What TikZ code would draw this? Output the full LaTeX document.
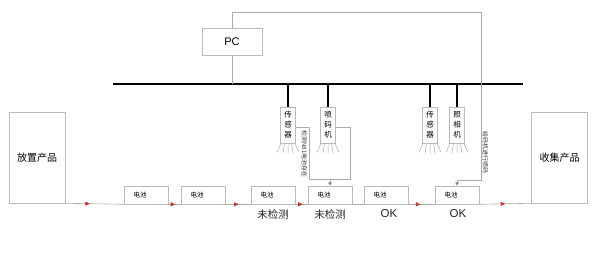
\documentclass[tikz,border=0pt]{standalone}
\usepackage{fontspec}
\setmainfont{Liberation Sans}
\newfontfamily\cjk{Noto Sans CJK SC}
\usetikzlibrary{arrows.meta,calc,decorations.markings}
\definecolor{boxgray}{HTML}{BBBBBB}
\definecolor{linegray}{HTML}{AAAAAA}
\definecolor{arrred}{HTML}{C83232}
\begin{document}
\begin{tikzpicture}[x=1pt,y=-1pt,
  box/.style={draw=boxgray, line width=0.6pt, fill=white, inner sep=0pt},
  bigbox/.style={box, minimum width=56pt, minimum height=91pt, font=\cjk\fontsize{10}{12}\selectfont},
  battery/.style={box, minimum width=44pt, minimum height=18pt, text width=25pt, align=left, font=\cjk\fontsize{6.5}{7}\selectfont},
  devbox/.style={box, minimum width=15pt, minimum height=36pt, align=center, font=\cjk\fontsize{7.5}{10}\selectfont},
  conn/.style={draw=linegray, line width=0.6pt},
  drop/.style={draw=black, line width=1.5pt},
  downarr/.style={conn, -{Triangle[length=3.5pt,width=3.5pt,fill=black]}},
  flow/.style={conn, postaction={decorate}, decoration={markings, mark=at position #1 with {\arrow[arrred]{Triangle[length=4.5pt,width=4pt]}}}},
  status/.style={inner sep=0pt, text=black!85, font=\fontsize{11.5}{12}\selectfont},
  statuscn/.style={inner sep=0pt, text=black!85, font=\cjk\fontsize{10.5}{12}\selectfont},
  vtext/.style={inner sep=0pt, rotate=-90, text=black!80, font=\cjk\fontsize{6}{6}\selectfont},
  rays/.pic={\draw[linegray, line width=0.5pt] (-7,0)--(-11,9) (-3.5,0)--(-5,10) (0,0)--(0,10) (3.5,0)--(5,10) (7,0)--(11,9);}
]
\useasboundingbox (0,0) rectangle (599,260);

% PC
\node[box, minimum width=60pt, minimum height=27pt, font=\fontsize{11}{12}\selectfont] (pc) at (232,41.5) {PC};

% bus
\coordinate (busL) at (113,84);
\coordinate (busR) at (523,84);
\draw[black, line width=2pt] (busL) -- (busR);
\draw[conn] (pc.south) -- (pc.south |- busL);

% devices
\node[devbox] (s1) at (288,125) {传\\感\\器};
\node[devbox] (sp) at (328,125) {喷\\码\\机};
\node[devbox] (s2) at (430,125) {传\\感\\器};
\node[devbox] (cam) at (457,125) {照\\相\\机};
\foreach \d in {s1,sp,s2,cam}{
  \draw[drop] (\d.north |- busL) -- (\d.north);
  \pic at (\d.south) {rays};
}

% end boxes
\node[bigbox] (left) at (37,157.5) {放置产品};
\node[bigbox] (right) at (559.5,157.5) {收集产品};

% batteries
\node[battery] (b1) at (146,195) {电池};
\node[battery] (b2) at (203,195) {电池};
\node[battery] (b3) at (273,195) {电池};
\node[battery] (b4) at (330,195) {电池};
\node[battery] (b5) at (386,195) {电池};
\node[battery] (b6) at (457,195) {电池};

% conveyor
\draw[flow=0.42] (left.south east) -- (b1.south west);
\draw[flow=0.56] (b1.south east) -- (b2.south west);
\draw[flow=0.52] (b2.south east) -- (b3.south west);
\draw[flow=0.6] (b3.south east) -- (b4.south west);
\draw[conn] (b4.south east) -- (b5.south west);
\draw[flow=0.46] (b5.south east) -- (b6.south west);
\draw[flow=0.5] (b6.south east) -- (right.south west);

% sensor / sprayer feedback loop
\coordinate (f1) at (309,127);
\coordinate (f2) at (309,179);
\coordinate (f3) at (350,179);
\draw[conn] (s1.east |- f1) -- (f1) -- (f2) -- (f3) -- (f3 |- f1) -- (sp.east |- f1);
\draw[downarr] (b4.north |- f2) -- (b4.north);
\node[vtext] (t1) at (304.5,154) {检测N81电池存在};

% PC to camera station
\coordinate (r0) at (232,12);
\coordinate (r1) at (481,12);
\coordinate (r2) at (481,180);
\draw[conn] (pc.north) -- (r0) -- (r1) -- (r2) -- (r2 -| b6.north);
\draw[downarr] (r2 -| b6.north) -- (b6.north);
\node[vtext] (t2) at (485.5,152) {给码机进行喷码};

% status labels
\node[statuscn] (l3) at (273,214) {未检测};
\node[statuscn] (l4) at (330,214) {未检测};
\node[status] (l5) at (389,214) {OK};
\node[status] (l6) at (458,214) {OK};
\end{tikzpicture}
\end{document}
